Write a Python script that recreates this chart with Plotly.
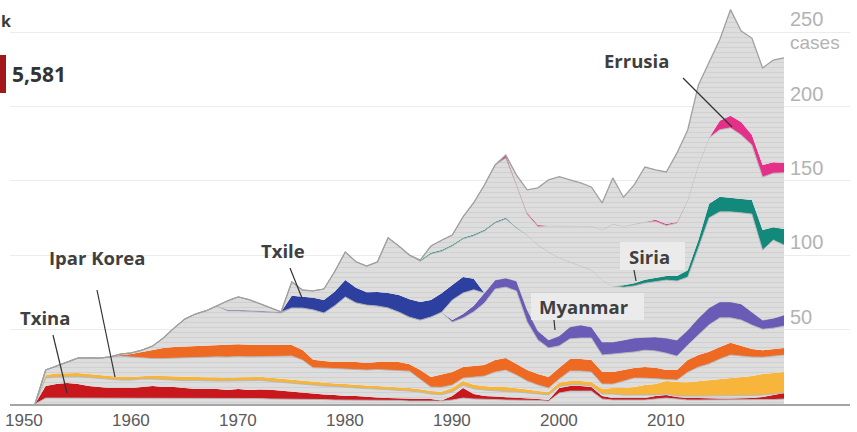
import plotly.graph_objects as go

years = list(range(1951, 2022))

gray_base = [
    0, 4.0, 4.0, 4.0, 4.0, 4.0, 4.0, 4.0, 4.0, 4.0,
    4.0, 4.0, 4.0, 4.0, 4.0, 4.0, 4.0, 4.0, 4.0, 3.7,
    3.7, 3.7, 3.4, 3.4, 3.4, 3.4, 3.4, 3.0, 2.7, 2.7,
    2.7, 2.7, 2.7, 2.4, 2.4, 2.0, 2.0, 2.0, 2.0, 2.7,
    4.0, 3.4, 3.4, 3.0, 2.7, 2.7, 2.7, 2.4, 2.0, 7.4,
    8.7, 8.7, 8.7, 3.4, 2.7, 2.7, 2.7, 2.7, 3.4, 4.0,
    3.4, 2.7, 2.7, 2.7, 2.7, 2.7, 2.7, 2.7, 2.7, 3.0,
    3.4]
txina = [
    0, 8.1, 9.4, 10.1, 9.4, 8.1, 7.4, 6.7, 6.7, 6.7,
    7.4, 8.1, 7.4, 7.4, 6.7, 6.1, 6.1, 6.1, 5.4, 6.4,
    5.7, 6.1, 6.1, 5.4, 4.7, 4.0, 3.4, 3.4, 3.4, 2.7,
    2.7, 2.0, 1.7, 1.7, 1.3, 1.7, 1.3, 1.3, 0.3, 2.7,
    6.7, 3.4, 2.0, 2.0, 2.0, 1.7, 1.3, 1.0, 0.7, 3.4,
    3.4, 3.4, 2.7, 2.0, 1.3, 1.3, 1.3, 1.3, 2.0, 2.0,
    1.3, 1.3, 1.3, 1.0, 1.0, 1.0, 1.0, 1.3, 2.0, 3.0,
    4.0]
gray_a = [
    0, 5.4, 4.7, 4.4, 5.0, 5.7, 5.7, 5.7, 5.4, 5.4,
    5.4, 4.7, 5.0, 4.7, 5.0, 5.7, 5.4, 5.4, 6.1, 5.4,
    6.4, 6.1, 5.7, 5.7, 5.7, 6.1, 6.1, 5.7, 5.7, 6.1,
    5.4, 5.7, 5.7, 5.7, 5.7, 5.0, 4.7, 3.4, 4.0, 2.7,
    2.0, 3.4, 4.0, 3.7, 3.7, 3.7, 3.4, 3.4, 3.4, 1.0,
    0.7, 0.7, 0.7, 1.3, 2.7, 2.0, 2.0, 2.0, 0.7, 0.7,
    0.7, 1.3, 1.3, 1.7, 1.7, 1.7, 1.7, 1.7, 1.3, 0.7,
    0]
ipar_korea = [
    0, 2.0, 2.4, 2.4, 2.4, 2.4, 2.4, 2.4, 2.0, 2.0,
    2.0, 2.4, 2.4, 2.4, 2.4, 2.4, 2.4, 2.4, 2.0, 2.4,
    2.4, 2.4, 2.4, 2.4, 2.4, 2.0, 2.0, 2.0, 2.0, 2.0,
    2.0, 2.0, 2.0, 2.0, 2.0, 2.0, 2.0, 2.0, 2.0, 2.7,
    2.7, 2.7, 2.7, 2.7, 3.0, 2.7, 2.4, 2.0, 2.0, 2.7,
    2.7, 2.7, 2.7, 3.4, 4.0, 4.7, 5.4, 6.7, 7.4, 8.7,
    9.4, 9.4, 10.1, 10.8, 11.4, 12.1, 12.8, 13.1, 14.1, 14.1,
    14.1]
gray_b = [
    0, 3.4, 5.0, 7.4, 10.1, 10.8, 11.4, 12.8, 14.1, 13.5,
    12.1, 11.4, 11.8, 12.4, 12.8, 13.1, 13.5, 13.8, 14.1, 14.1,
    13.5, 13.5, 14.5, 15.1, 16.1, 14.1, 9.4, 10.1, 10.1, 10.4,
    10.8, 10.4, 11.1, 11.1, 11.4, 11.4, 6.7, 2.7, 3.0, 2.0,
    2.0, 5.4, 6.7, 10.1, 11.4, 8.7, 5.7, 4.0, 2.7, 2.4,
    6.7, 6.7, 6.7, 3.4, 2.7, 4.7, 6.1, 4.7, 3.4, 0.7,
    1.3, 6.7, 9.4, 10.8, 13.5, 15.5, 14.1, 12.8, 11.4, 11.4,
    11.4]
orange_band = [
    0, 0, 0, 0, 0, 0, 0, 0, 0.7, 2.0,
    4.0, 5.7, 7.1, 7.4, 7.7, 7.7, 8.1, 8.1, 8.1, 8.1,
    8.1, 8.1, 7.7, 7.7, 7.4, 6.7, 5.4, 4.7, 4.4, 4.4,
    4.7, 4.7, 5.0, 5.4, 5.4, 4.7, 6.1, 6.7, 8.7, 8.7,
    7.4, 7.4, 7.4, 8.1, 8.1, 7.4, 7.4, 7.4, 7.4, 7.4,
    8.1, 8.1, 8.1, 8.1, 8.1, 7.4, 6.7, 7.4, 7.4, 6.7,
    6.7, 8.1, 8.1, 8.1, 8.1, 8.1, 6.7, 5.4, 4.7, 4.7,
    4.7]
gray_c = [
    0, 0, 0, 0, 0, 0, 0, 0, 0.7, 0.7,
    1.3, 2.7, 6.7, 12.8, 18.5, 21.5, 23.2, 26.2, 22.9, 22.5,
    22.5, 22.2, 21.9, 21.5, 24.9, 28.2, 33.6, 32.3, 37.7, 43.7,
    39.7, 39.0, 37.7, 36.3, 33.6, 31.6, 33.6, 40.4, 41.7, 33.6,
    33.0, 36.3, 41.7, 47.7, 47.7, 49.1, 32.3, 22.9, 19.5, 14.8,
    13.5, 14.1, 14.8, 11.4, 12.1, 11.4, 10.8, 11.4, 11.4, 11.4,
    9.4, 10.1, 13.5, 18.2, 19.5, 16.8, 17.5, 16.1, 14.1, 14.1,
    14.8]
myanmar = [
    0, 0, 0, 0, 0, 0, 0, 0, 0, 0,
    0, 0, 0, 0, 0, 0, 0, 0, 0.7, 0.7,
    0.7, 0.7, 0.7, 0.7, 0, 0, 0, 0, 0, 0,
    0, 0, 0, 0, 0, 0, 0, 0, 0, 1.3,
    2.7, 4.0, 6.7, 6.1, 6.1, 6.7, 8.1, 6.1, 5.4, 6.7,
    8.1, 8.7, 7.4, 8.7, 8.1, 8.7, 9.4, 8.7, 9.4, 10.1,
    10.8, 10.1, 11.4, 11.4, 10.8, 10.8, 10.8, 8.7, 6.1, 6.7,
    7.4]
gray_d = [
    0, 0, 0, 0, 0, 0, 0, 0, 0, 0,
    0, 0, 0, 0, 0, 0, 0, 0, 0, 0,
    0, 0, 0, 0, 0, 0, 0, 0, 0, 0,
    0, 0, 0, 0, 0, 0, 0, 0, 0, 13.5,
    14.1, 10.8, 0, 0, 0, 0, 0, 0, 0, 0,
    0, 0, 0, 0, 0, 0, 0, 0, 0, 0,
    0, 0, 0, 0, 0, 0, 0, 0, 0, 0,
    0]
txile = [
    0, 0, 0, 0, 0, 0, 0, 0, 0, 0,
    0, 0, 0, 0, 0, 0, 0, 0, 0, 0,
    0, 0, 0, 0, 8.1, 7.4, 8.1, 8.7, 9.4, 11.4,
    10.1, 8.7, 9.4, 10.1, 11.4, 12.1, 12.1, 11.4, 12.8, 10.1,
    10.8, 7.4, 0, 0, 0, 0, 0, 0, 0, 0,
    0, 0, 0, 0, 0, 0, 0, 0, 0, 0,
    0, 0, 0, 0, 0, 0, 0, 0, 0, 0,
    0]
gray_e = [
    0, 0, 0, 0, 0, 0, 0, 0, 0, 0,
    0, 0, 0, 0, 0, 0, 0, 0, 6.1, 8.7,
    7.1, 4.7, 2.4, 0, 9.4, 4.7, 4.7, 7.4, 13.5, 18.8,
    17.5, 17.5, 20.2, 37.0, 33.0, 29.6, 27.4, 30.9, 28.2, 26.2,
    25.6, 28.9, 41.7, 38.3, 39.7, 35.6, 50.4, 57.8, 59.2, 52.5,
    43.7, 39.7, 38.3, 41.7, 37.7, 35.6, 35.0, 36.3, 37.0, 39.0,
    39.7, 35.6, 47.1, 60.5, 60.5, 60.5, 61.2, 65.9, 47.1, 52.5,
    47.1]
siria = [
    0, 0, 0, 0, 0, 0, 0, 0, 0, 0,
    0, 0, 0, 0, 0, 0, 0, 0, 0, 0,
    0, 0, 0, 0, 0, 0, 0, 0, 0, 0,
    0, 0, 0, 0, 0, 0, 0.8, 0.8, 0.8, 0.8,
    0.8, 0.8, 0.8, 0.8, 0.8, 0.5, 0, 0, 0, 0,
    0, 0, 0, 0, 0, 1.3, 1.7, 2.4, 2.7, 2.7,
    3.4, 4.7, 5.4, 9.4, 10.1, 9.4, 9.4, 9.4, 13.5, 8.7,
    10.8]
gray_f = [
    0, 0, 0, 0, 0, 0, 0, 0, 0, 0,
    0, 0, 0, 0, 0, 0, 0, 0, 0, 0,
    0, 0, 0, 0, 0, 0, 0, 0, 0, 0,
    0, 0, 0, 0, 0, 0, 0, 4.6, 6.6, 6.6,
    14.0, 21.4, 30.1, 38.2, 40.2, 28.4, 13.8, 12.4, 17.5, 21.5,
    24.2, 26.9, 29.6, 33.6, 41.7, 39.7, 40.0, 38.7, 38.0, 34.0,
    35.6, 47.1, 50.4, 44.4, 45.1, 47.1, 43.0, 37.0, 35.6, 36.3,
    37.7]
errusia = [
    0, 0, 0, 0, 0, 0, 0, 0, 0, 0,
    0, 0, 0, 0, 0, 0, 0, 0, 0, 0,
    0, 0, 0, 0, 0, 0, 0, 0, 0, 0,
    0, 0, 0, 0, 0, 0, 0, 0, 0, 0,
    0, 0, 0, 0, 2.0, 0, 1.0, 1.0, 0, 0,
    0, 0, 0, 0, 0, 0, 0, 0, 1.0, 1.0,
    0.7, 0, 0, 0, 6.1, 8.1, 8.7, 6.7, 8.1, 7.4,
    6.7]
gray_g = [
    0, 0, 0, 0, 0, 0, 0, 0, 0, 0,
    0, 0, 0, 0, 0, 0, 0, 0, 0, 0,
    0, 0, 0, 0, 0, 0, 0, 0, 0, 0,
    0, 0, 0, 0, 0, 0, 0, 0, 0, 0,
    0, 0, 0, 0, 0, 6.7, 15.5, 24.9, 30.9, 33.0,
    30.9, 28.9, 26.2, 18.2, 30.9, 19.5, 26.2, 37.0, 33.6, 35.0,
    46.4, 47.1, 53.8, 51.1, 54.5, 71.3, 61.2, 65.2, 65.2, 68.6,
    70.6]

tick_years = [1950, 1960, 1970, 1980, 1990, 2000, 2010]
y_ticks = [50, 100, 150, 200, 250]

GRAY_FILL = "#dddddd"
GRAY_LINE = "#b4b4b4"
GRAY_PATTERN = dict(shape="-", size=5, solidity=0.16, fgcolor="#cdcdcd", bgcolor=GRAY_FILL, fillmode="replace")

layers = [
    ("gray_base", gray_base, GRAY_FILL, True),
    ("Txina", txina, "#c9171e", False),
    ("gray_a", gray_a, GRAY_FILL, True),
    ("Ipar Korea", ipar_korea, "#f7b53b", False),
    ("gray_b", gray_b, GRAY_FILL, True),
    ("orange", orange_band, "#ee6a22", False),
    ("gray_c", gray_c, GRAY_FILL, True),
    ("Myanmar", myanmar, "#6a5cb6", False),
    ("gray_d", gray_d, GRAY_FILL, True),
    ("Txile", txile, "#2d3f9f", False),
    ("gray_e", gray_e, GRAY_FILL, True),
    ("Siria", siria, "#13897b", False),
    ("gray_f", gray_f, GRAY_FILL, True),
    ("Errusia", errusia, "#e5308a", False),
    ("gray_g", gray_g, GRAY_FILL, True),
]

fig = go.Figure()
for i, (name, vals, color, is_gray) in enumerate(layers):
    last = i == len(layers) - 1
    kw = {}
    if is_gray:
        line = dict(width=1.3 if last else 0.9, color="#a0a0a0" if last else GRAY_LINE)
        kw["fillpattern"] = GRAY_PATTERN
    else:
        line = dict(width=0, color=color)
    fig.add_trace(go.Scatter(
        x=years, y=vals, name=name, mode="lines", stackgroup="one",
        fillcolor=color, line=line, hoverinfo="skip", showlegend=False, **kw))

W, H = 857, 432
L, R, T, B = 10, 7, 0, 28
PW, PH = W - L - R, H - T - B
X0_PX, X_SCALE = 35, 10.7      # first data year at 35px, 10.7 px per year
Y_SCALE = 1.4875               # px per case


def px_x(px):
    return (px - L) / PW


def px_y(py):
    return (T + PH - py) / PH


def yr(px):
    return years[0] + (px - X0_PX) / X_SCALE


def val(py):
    return (404 - py) / Y_SCALE


annotations = []
for v in y_ticks:
    annotations.append(dict(x=px_x(788), y=v, xref="paper", yref="y", text=str(v),
                            xanchor="left", yanchor="bottom", yshift=0, showarrow=False,
                            font=dict(family="Liberation Sans", size=20, color="#b3b3b3")))
annotations.append(dict(x=px_x(788), y=250, xref="paper", yref="y", text="cases",
                        xanchor="left", yanchor="top", yshift=2, showarrow=False,
                        font=dict(family="Liberation Sans", size=19, color="#b3b3b3")))
for t in tick_years:
    annotations.append(dict(x=t, y=px_y(420), xref="x", yref="paper", text=str(t),
                            xanchor="center", yanchor="middle", showarrow=False,
                            font=dict(family="Liberation Sans", size=17, color="#5a5a5a")))

LABEL_FONT = dict(family="Open Sans", size=18.5, color="#3f3f3f", weight="bold")
labels = [
    ("Errusia", 602, 60),
    ("Txile", 259, 250),
    ("Siria", 627, 256),
    ("Myanmar", 537, 306),
    ("Ipar Korea", 47, 257),
    ("Txina", 18, 317),
]
shapes = []
shapes.append(dict(type="rect", xref="paper", yref="paper", x0=px_x(620), x1=px_x(685),
                   y0=px_y(270), y1=px_y(242), fillcolor="rgba(236,236,236,0.92)", line=dict(width=0), layer="above"))
shapes.append(dict(type="rect", xref="paper", yref="paper", x0=px_x(531), x1=px_x(644),
                   y0=px_y(320), y1=px_y(293), fillcolor="rgba(236,236,236,0.92)", line=dict(width=0), layer="above"))
for text, lx, ly in labels:
    annotations.append(dict(x=px_x(lx), y=px_y(ly), xref="paper", yref="paper", text=text,
                            xanchor="left", yanchor="middle", showarrow=False, font=LABEL_FONT))

leaders = [
    ((53, 335), (67, 393)),
    ((97, 290), (115, 377)),
    ((290, 268), (302, 298)),
    ((683, 78), (732, 127)),
    ((634, 270), (636, 281)),
    ((554, 320), (555, 330)),
]
for (x0, y0), (x1, y1) in leaders:
    shapes.append(dict(type="line", xref="x", yref="y", x0=yr(x0), y0=val(y0), x1=yr(x1), y1=val(y1),
                       line=dict(color="#333333", width=1.2), layer="above"))

annotations.append(dict(x=px_x(13), y=px_y(21), xref="paper", yref="paper", text="k",
                        xanchor="right", yanchor="middle", showarrow=False,
                        font=dict(family="Open Sans", size=16, color="#3a3a3a", weight="bold")))
shapes.append(dict(type="rect", xref="paper", yref="paper", x0=px_x(-2), x1=px_x(6),
                   y0=px_y(93), y1=px_y(55), fillcolor="#a3161b", line=dict(width=0)))
annotations.append(dict(x=px_x(10), y=px_y(74), xref="paper", yref="paper", text="5,581",
                        xanchor="left", yanchor="middle", showarrow=False,
                        font=dict(family="Open Sans", size=21, color="#333333", weight="bold")))

fig.update_layout(
    width=W, height=H,
    margin=dict(l=L, r=R, t=T, b=B),
    plot_bgcolor="white", paper_bgcolor="white",
    showlegend=False,
    annotations=annotations,
    shapes=shapes,
    xaxis=dict(range=[yr(L), yr(W - R)], showgrid=False, zeroline=False,
               showticklabels=False, ticks="",
               showline=True, linecolor="#a5a5a5", linewidth=2, fixedrange=True),
    yaxis=dict(range=[0, PH / Y_SCALE], showgrid=True, gridcolor="#ececec", gridwidth=1,
               tickmode="array", tickvals=y_ticks, showticklabels=False, zeroline=False,
               fixedrange=True),
    hovermode=False,
)

fig.write_html("out.html", config={"displayModeBar": False},
               post_script="document.body.style.margin='0px';document.body.style.overflow='hidden';")
